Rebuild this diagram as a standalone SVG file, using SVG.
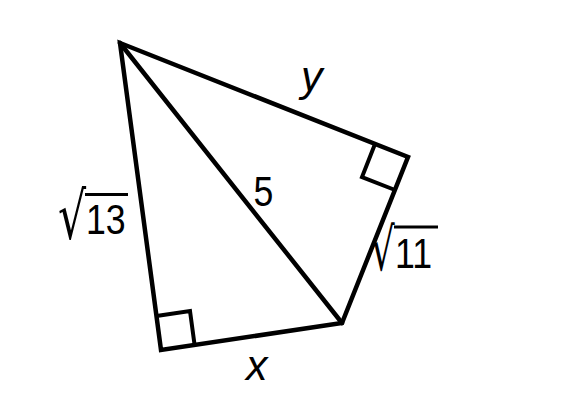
<svg xmlns="http://www.w3.org/2000/svg" width="575" height="410" viewBox="0 0 575 410">
<style>
.e{stroke:#000;stroke-width:4.5;fill:none;stroke-linejoin:miter;stroke-linecap:round}
.s{stroke:#000;stroke-width:4;fill:none}
.t{font-family:"Liberation Sans",Arial,sans-serif;font-size:43px;fill:#000}
.i{font-style:italic}
.r{font-family:"DejaVu Sans",sans-serif;fill:#000}
.v{stroke:#000;stroke-width:3}
</style>
<rect width="575" height="410" fill="#fff"/>
<g id="edges">
<path class="e" d="M120,43 L408,157 L342,323 L161,350 Z"/>
<path class="e" d="M120,43 L342,323"/>
</g>
<g id="right-angle-bottom">
<path class="s" d="M156.5,316 L190,311 L194.6,345"/>
</g>
<g id="right-angle-right">
<path class="s" d="M375,144 L362,177 L395,190"/>
</g>
<g id="label-sqrt13">
<text class="r" font-size="65" transform="translate(58,239) scale(0.68,1)">√</text>
<line class="v" x1="85" y1="194.5" x2="128" y2="194.5"/>
<text class="t" transform="translate(86,234) scale(0.83,1)">13</text>
</g>
<g id="label-sqrt11">
<text class="r" font-size="59" transform="translate(371,270) scale(0.63,1)">√</text>
<line class="v" x1="394" y1="227" x2="438" y2="227"/>
<text class="t" transform="translate(395,268) scale(0.83,1)">11</text>
</g>
<g id="label-5"><text class="t" transform="translate(253.5,206) scale(0.83,1)">5</text></g>
<g id="label-y"><text class="t i" x="301" y="91" font-size="41">y</text></g>
<g id="label-x"><text class="t i" x="246" y="380" font-size="39">x</text></g>
</svg>
